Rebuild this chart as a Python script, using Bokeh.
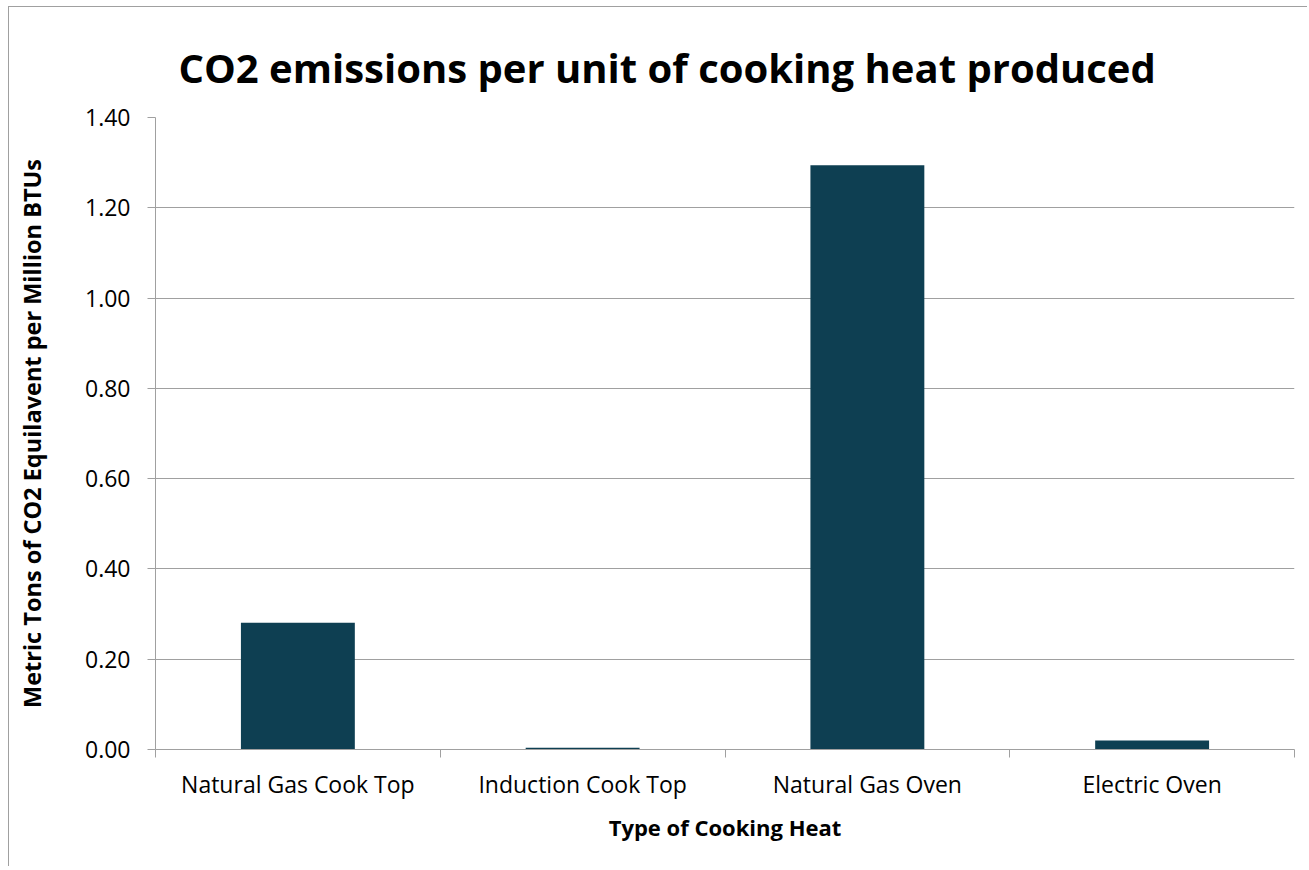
from bokeh.plotting import figure
from bokeh.models import ColumnDataSource, FixedTicker, Title, Range1d, NumeralTickFormatter
from bokeh.embed import file_html
from bokeh.resources import INLINE

categories = ["Natural Gas Cook Top", "Induction Cook Top", "Natural Gas Oven", "Electric Oven"]
values = [0.281, 0.004, 1.294, 0.020]
y_ticks = [0.0, 0.2, 0.4, 0.6, 0.8, 1.0, 1.2, 1.4]

FONT = "Open Sans"
GRAY = "#a0a0a0"

n = len(categories)
centers = [i + 0.5 for i in range(n)]
bounds = [float(i) for i in range(n + 1)]

src = ColumnDataSource(dict(x=centers, val=values, cat=categories))

p = figure(x_range=Range1d(0, n), y_range=Range1d(0, 1.4), width=1299, height=860,
           output_backend="svg", toolbar_location=None,
           min_border_left=146, min_border_right=14, min_border_top=110, min_border_bottom=118)
p.vbar(x="x", top="val", width=0.4, source=src, fill_color="#0e3f52", line_color=None)

p.title = Title(text="CO2 emissions per unit of cooking heat produced", align="left",
                text_font=FONT, text_font_size="40px", text_font_style="bold",
                text_color="#000000", offset=23, standoff=46)

p.outline_line_color = None
p.border_fill_color = "white"
p.background_fill_color = "white"

p.xgrid.grid_line_color = None
p.ygrid.grid_line_color = GRAY
p.ygrid.grid_line_width = 1

p.yaxis.ticker = FixedTicker(ticks=y_ticks)
p.yaxis.formatter = NumeralTickFormatter(format="0.00")
p.yaxis.axis_line_color = GRAY
p.yaxis.major_tick_line_color = GRAY
p.yaxis.major_tick_out = 8
p.yaxis.major_tick_in = 0
p.yaxis.minor_tick_line_color = None
p.yaxis.major_label_text_font = FONT
p.yaxis.major_label_text_font_size = "23px"
p.yaxis.major_label_text_color = "#000000"
p.yaxis.major_label_standoff = 17
p.yaxis.axis_label = "Metric Tons of CO2 Equilavent per Million BTUs"
p.yaxis.axis_label_text_font = FONT
p.yaxis.axis_label_text_font_size = "23.5px"
p.yaxis.axis_label_text_font_style = "bold"
p.yaxis.axis_label_text_color = "#000000"
p.yaxis.axis_label_standoff = 34

p.xaxis.ticker = FixedTicker(ticks=centers, minor_ticks=bounds)
p.xaxis.major_label_overrides = {c: name for c, name in zip(centers, categories)}
p.xaxis.axis_line_color = GRAY
p.xaxis.major_tick_line_color = None
p.xaxis.minor_tick_line_color = GRAY
p.xaxis.minor_tick_out = 8
p.xaxis.minor_tick_in = 0
p.xaxis.major_label_text_font = FONT
p.xaxis.major_label_text_font_size = "23px"
p.xaxis.major_label_text_color = "#000000"
p.xaxis.major_label_standoff = 10
p.xaxis.axis_label = "Type of Cooking Heat"
p.xaxis.axis_label_text_font = FONT
p.xaxis.axis_label_text_font_size = "22px"
p.xaxis.axis_label_text_font_style = "bold"
p.xaxis.axis_label_text_color = "#000000"
p.xaxis.axis_label_standoff = 9

p.styles = {"border-left": "1.5px solid #a0a0a0", "border-top": "1.5px solid #a0a0a0",
            "margin-left": "8px", "margin-top": "6px"}

open("out.html", "w").write(file_html(p, INLINE))
